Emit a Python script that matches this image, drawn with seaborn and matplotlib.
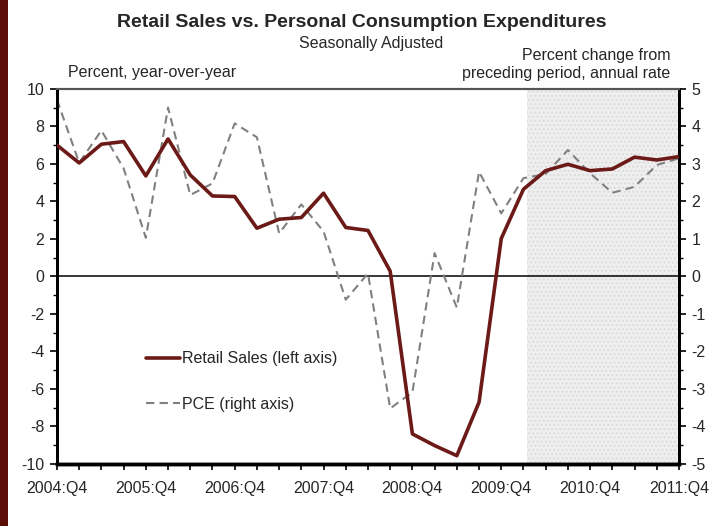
import matplotlib
matplotlib.use("Agg")
import matplotlib.pyplot as plt
import seaborn as sns
import pandas as pd
import numpy as np
from matplotlib.patches import Rectangle

sns.set_theme(style="white")
plt.rcParams['font.family'] = ['Liberation Sans', 'DejaVu Sans']

quarters = ["2004:Q4", "2005:Q1", "2005:Q2", "2005:Q3", "2005:Q4", "2006:Q1", "2006:Q2", "2006:Q3",
            "2006:Q4", "2007:Q1", "2007:Q2", "2007:Q3", "2007:Q4", "2008:Q1", "2008:Q2", "2008:Q3",
            "2008:Q4", "2009:Q1", "2009:Q2", "2009:Q3", "2009:Q4", "2010:Q1", "2010:Q2", "2010:Q3",
            "2010:Q4", "2011:Q1", "2011:Q2", "2011:Q3", "2011:Q4"]
retail_sales = [7.0, 6.05, 7.05, 7.19, 5.36, 7.33, 5.41, 4.29, 4.26, 2.57, 3.05, 3.14, 4.44, 2.61,
                2.45, 0.28, -8.4, -9.02, -9.56, -6.71, 2.02, 4.65, 5.64, 5.98, 5.64, 5.73, 6.36, 6.21, 6.39]
pce = [4.71, 3.03, 3.89, 2.88, 1.03, 4.5, 2.17, 2.48, 4.08, 3.71, 1.15, 1.92, 1.2, -0.62,
       0.08, -3.52, -3.09, 0.62, -0.83, 2.79, 1.68, 2.62, 2.73, 3.37, 2.75, 2.23, 2.39, 2.97, 3.15]
xtick_labels = ["2004:Q4", "2005:Q4", "2006:Q4", "2007:Q4", "2008:Q4", "2009:Q4", "2010:Q4", "2011:Q4"]
shade_start = 21.15

df = pd.DataFrame({"q": np.arange(len(quarters)), "retail": retail_sales, "pce": pce})

fig = plt.figure(figsize=(7.23, 5.26), dpi=100)
ax = fig.add_axes([0.0788, 0.118, 0.8603, 0.713])
ax2 = ax.twinx()

# ax2 (right axis) sits underneath; shading drawn there so both lines show on top
ax2.axvspan(shade_start, len(quarters) - 1, facecolor='#efefef', edgecolor='#dcdcdc',
            hatch='....', linewidth=0, zorder=0)
ax2.axhline(0, color='black', linewidth=1.1, zorder=1)

sns.lineplot(data=df, x="q", y="pce", ax=ax2, color='#808080', linewidth=1.5,
             linestyle=(0, (4, 2.5)), label="PCE (right axis)", legend=False, zorder=3)
sns.lineplot(data=df, x="q", y="retail", ax=ax, color='#6b1a17', linewidth=2.6,
             label="Retail Sales (left axis)", legend=False, zorder=3)

ax.set_zorder(ax2.get_zorder() + 1)
ax.patch.set_visible(False)
ax2.patch.set_visible(True)
ax2.patch.set_facecolor('white')

fs = 11.5
ax.set_xlim(0, len(quarters) - 1)
ax.set_ylim(-10, 10)
ax2.set_ylim(-5, 5)
ax.set_xticks(np.arange(0, len(quarters), 4))
ax.set_xticklabels(xtick_labels, fontsize=fs)
ax.set_xticks(np.arange(0, len(quarters)), minor=True)
ax.set_yticks(np.arange(-10, 11, 2))
ax.set_yticks(np.arange(-10, 11, 1), minor=True)
ax2.set_yticks(np.arange(-5, 6, 1))
ax2.set_yticks(np.arange(-5, 5.5, 0.5), minor=True)
ax.set_yticklabels([str(v) for v in range(-10, 11, 2)], fontsize=fs)
ax2.set_yticklabels([str(v) for v in range(-5, 6, 1)], fontsize=fs)
ax.set_xlabel("")
ax.set_ylabel("")
ax2.set_ylabel("")

ax.tick_params(axis='x', which='major', direction='out', length=4, width=1.2, color='black',
               pad=8, bottom=True)
ax.tick_params(axis='x', which='minor', direction='out', length=4, width=1.2, color='black', bottom=True)
ax.tick_params(axis='y', which='major', direction='out', length=5, width=1.2, color='black', pad=4, left=True)
ax.tick_params(axis='y', which='minor', direction='out', length=3, width=1, color='black', left=True)
ax2.tick_params(axis='y', which='major', direction='out', length=5, width=1.2, color='black', pad=4, right=True)
ax2.tick_params(axis='y', which='minor', direction='out', length=3, width=1, color='black', right=True)

for a in (ax, ax2):
    a.spines['top'].set_color('#555555')
    a.spines['top'].set_linewidth(1.5)
    a.spines['left'].set_color('black')
    a.spines['left'].set_linewidth(2)
    a.spines['right'].set_color('black')
    a.spines['right'].set_linewidth(2)
    a.spines['bottom'].set_color('black')
    a.spines['bottom'].set_linewidth(2.5)

h1, l1 = ax.get_legend_handles_labels()
h2, l2 = ax2.get_legend_handles_labels()
leg = ax.legend(h1 + h2, l1 + l2, loc='center left', bbox_to_anchor=(0.12, 0.22),
                frameon=False, fontsize=fs, handlelength=2.15, handletextpad=0.12,
                labelspacing=1.9)

fig.text(0.5, 0.958, "Retail Sales vs. Personal Consumption Expenditures", ha='center', va='center',
         fontsize=14, fontweight='bold')
fig.text(0.513, 0.917, "Seasonally Adjusted", ha='center', va='center', fontsize=fs)
fig.text(0.094, 0.862, "Percent, year-over-year", ha='left', va='center', fontsize=fs)
fig.text(0.927, 0.895, "Percent change from", ha='right', va='center', fontsize=fs)
fig.text(0.927, 0.861, "preceding period, annual rate", ha='right', va='center', fontsize=fs)

# dark red bar at left edge
fig.patches.append(Rectangle((0, 0), 0.0105, 1, transform=fig.transFigure, facecolor='#5c0d05',
                             edgecolor='none', zorder=0))

fig.savefig("out.png", dpi=100)
